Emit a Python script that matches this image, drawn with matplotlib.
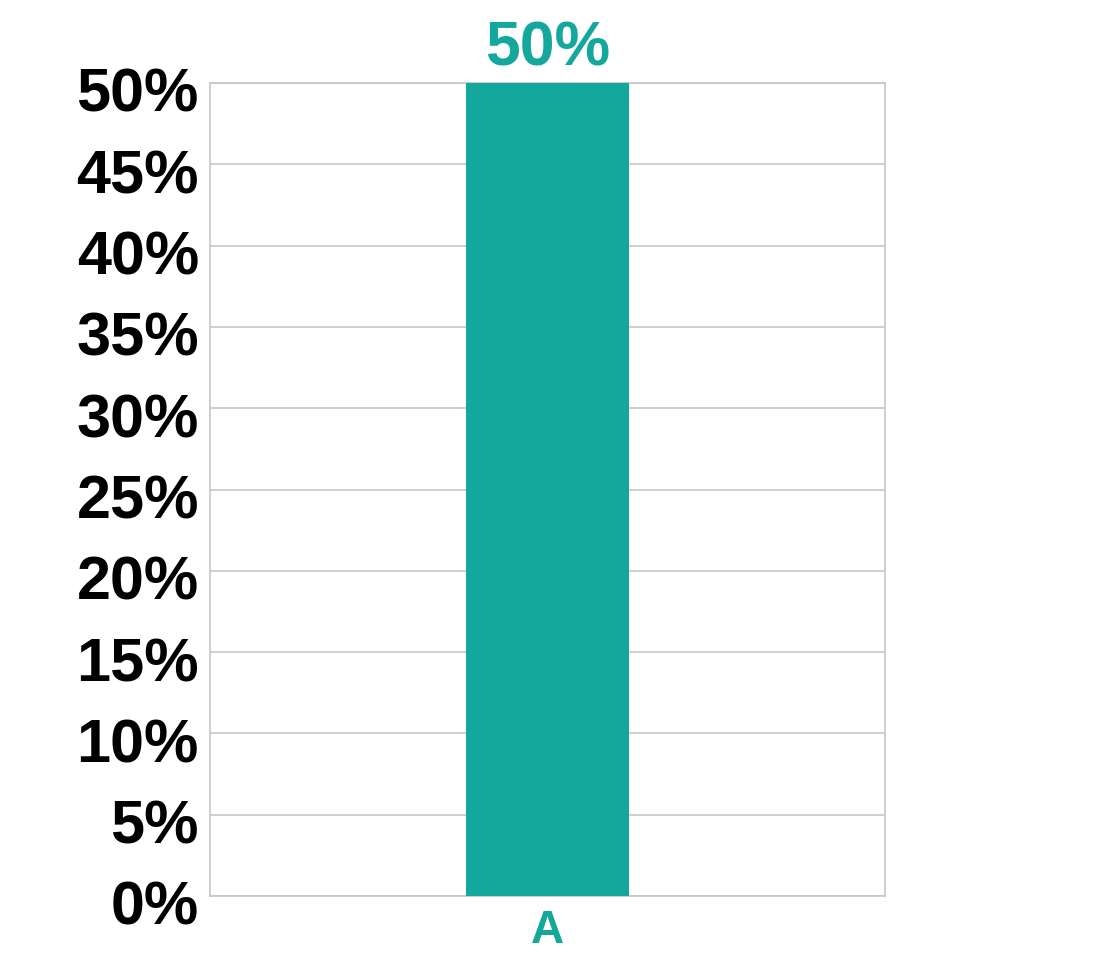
import matplotlib
matplotlib.use("Agg")
import matplotlib.pyplot as plt
import matplotlib.transforms as mtransforms

categories = ["A"]
values = [50]
y_ticks = [0, 5, 10, 15, 20, 25, 30, 35, 40, 45, 50]

teal = "#13a89b"
plt.rcParams['font.family'] = ['Liberation Sans', 'DejaVu Sans']

fig = plt.figure(figsize=(10.95, 9.8), dpi=100)
ax = fig.add_axes([0.1918, 0.0857, 0.6164, 0.8296])

x = list(range(len(categories)))
bars = ax.bar(x, values, width=0.2415, color=teal, zorder=3)
ax.set_xlim(-0.5, 0.5)
ax.set_ylim(0, 50)

# value labels above bars
lift = mtransforms.ScaledTranslation(0, 3/72, fig.dpi_scale_trans)
for xi, v in zip(x, values):
    ax.text(xi, v, f"{v}%", ha="center", va="bottom", fontsize=45,
            fontweight="bold", color=teal, clip_on=False,
            transform=ax.transData + lift)

ax.set_yticks(y_ticks)
ax.set_yticklabels([f"{t}%" for t in y_ticks], fontsize=44, fontweight="bold", color="black")
ax.set_xticks(x)
ax.set_xticklabels(categories, fontsize=33, fontweight="bold", color=teal)
ax.tick_params(axis="y", length=0, pad=8)
ax.tick_params(axis="x", length=0, pad=9)

# tick labels sit a little below their gridlines
for lab in ax.get_yticklabels():
    lab.set_transform(lab.get_transform() + mtransforms.ScaledTranslation(0, -5/72, fig.dpi_scale_trans))

ax.grid(axis="y", color="#c6c6c6", linewidth=1.2, zorder=0)
for s in ax.spines.values():
    s.set_color("#c6c6c6")
    s.set_linewidth(1.2)

fig.savefig("out.png", dpi=100, facecolor="white")
